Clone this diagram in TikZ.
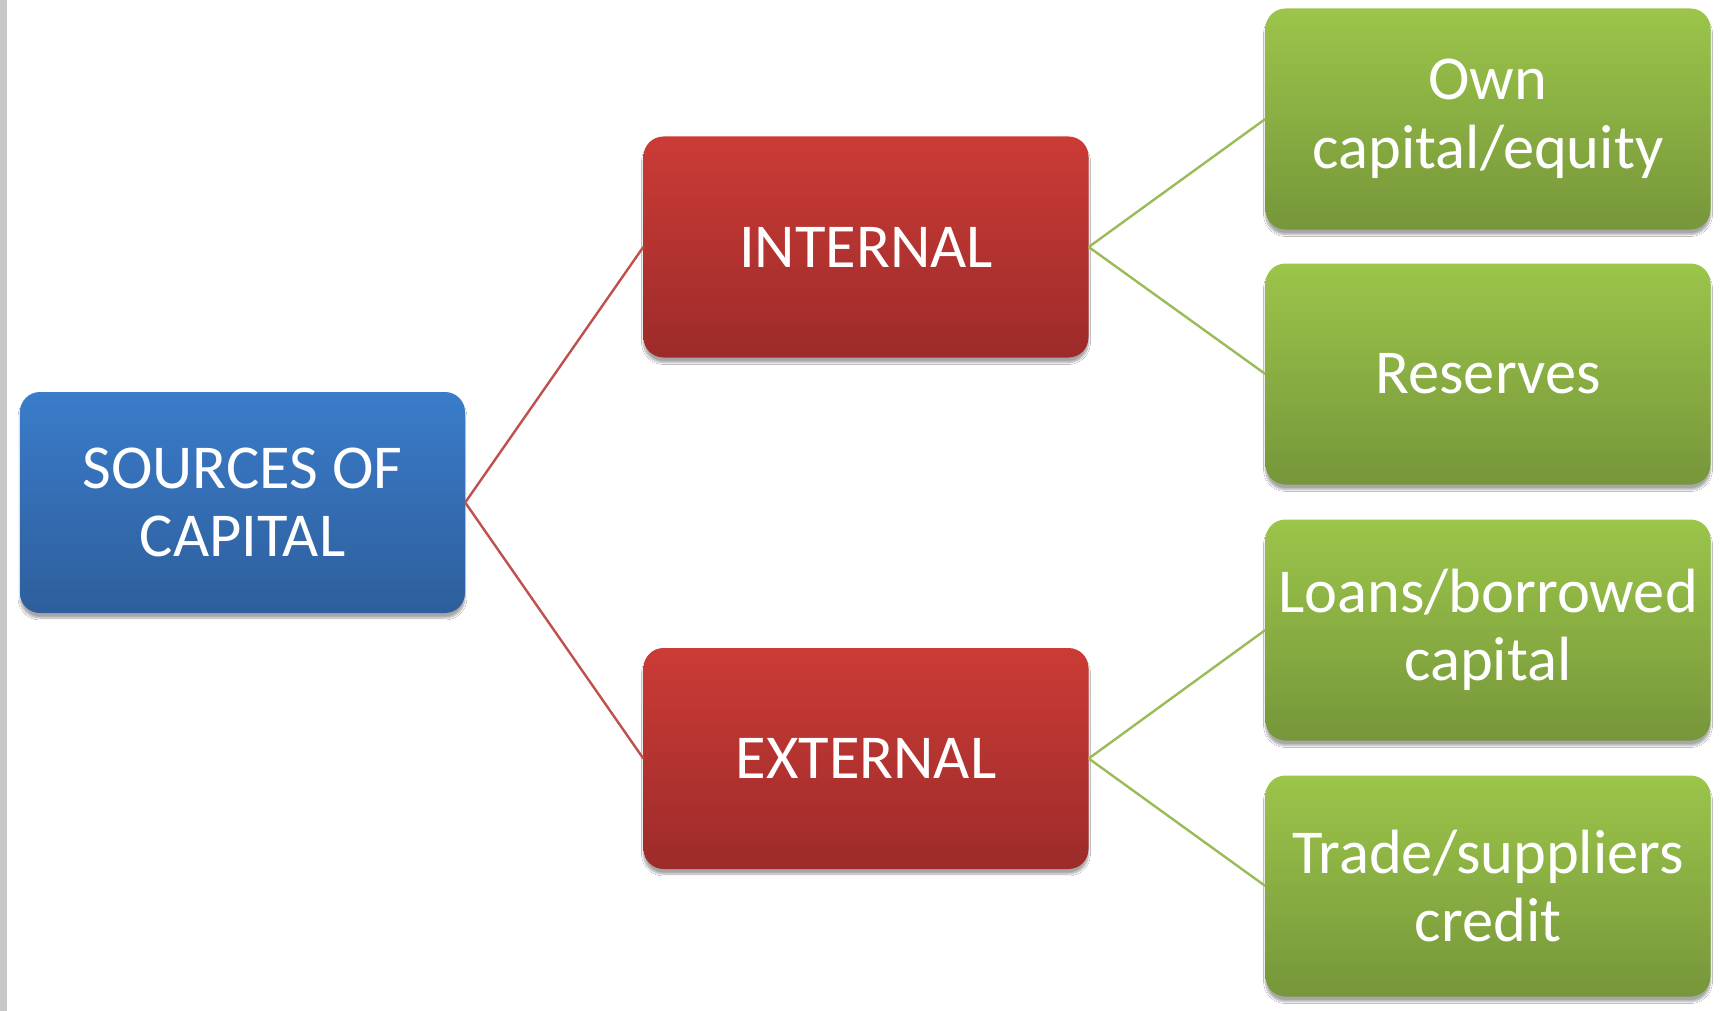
\documentclass[tikz,border=0pt]{standalone}
\usepackage{fontspec}
\setmainfont{Carlito}
\usetikzlibrary{shadows.blur}
\begin{document}
\begin{tikzpicture}[x=1pt,y=-1pt,
  box/.style={rounded corners=20pt, minimum width=445pt, minimum height=221pt,
    inner sep=0pt, align=center, text=white,
    font=\fontsize{62.5}{68.5}\selectfont,
    blur shadow={shadow xshift=0pt, shadow yshift=-5pt, shadow blur steps=8, shadow opacity=35}},
  rootbox/.style={box, top color=blueTop, bottom color=blueBot},
  midbox/.style={box, top color=redTop, bottom color=redBot},
  leafbox/.style={box, top color=greenTop, bottom color=greenBot},
  redline/.style={draw=redLine, line width=2.4pt},
  greenline/.style={draw=greenLine, line width=2.4pt}]
\definecolor{blueTop}{HTML}{3A7CCA}
\definecolor{blueBot}{HTML}{2E5E9C}
\definecolor{redTop}{HTML}{CC3B36}
\definecolor{redBot}{HTML}{9C2B2A}
\definecolor{greenTop}{HTML}{9CC54A}
\definecolor{greenBot}{HTML}{76963A}
\definecolor{redLine}{HTML}{C0504D}
\definecolor{greenLine}{HTML}{9BBB59}
\definecolor{edgeGray}{HTML}{C8C8C8}

\useasboundingbox (0,0) rectangle (1726,1011);
\fill[white] (0,0) rectangle (1726,1011);
\fill[edgeGray] (0,0) rectangle (7,1011);

% root
\node[rootbox] (src) at (242.5,502.5) {SOURCES OF\\CAPITAL};

% second level
\node[midbox] (int) at (866,247) {INTERNAL};
\node[midbox] (ext) at (866,758.5) {EXTERNAL};

% leaves
\node[leafbox] (own) at (1488,119) {Own\\capital/equity};
\node[leafbox] (res) at (1488,374) {Reserves};
\node[leafbox] (loan) at (1488,630) {Loans/borrowed\\capital};
\node[leafbox] (trade) at (1488,886) {Trade/suppliers\\credit};

% connectors
\draw[redline] (src.east) -- (int.west);
\draw[redline] (src.east) -- (ext.west);
\draw[greenline] (int.east) -- (own.west);
\draw[greenline] (int.east) -- (res.west);
\draw[greenline] (ext.east) -- (loan.west);
\draw[greenline] (ext.east) -- (trade.west);
\end{tikzpicture}
\end{document}
